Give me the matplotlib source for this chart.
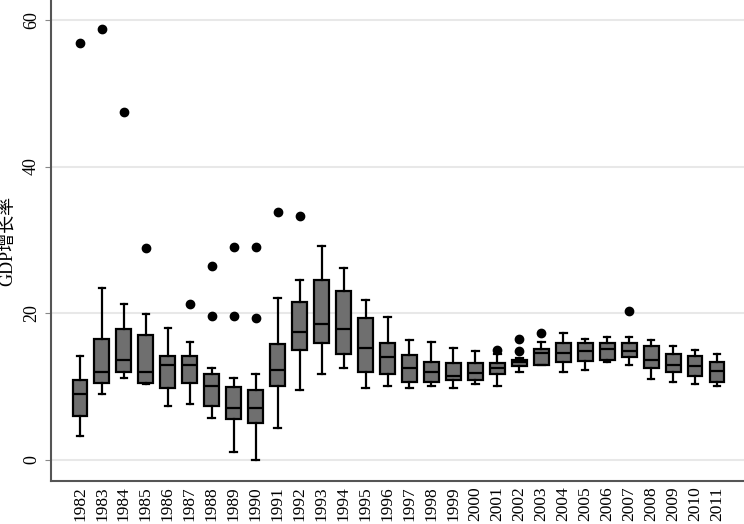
import matplotlib
matplotlib.use("Agg")
import matplotlib.pyplot as plt

plt.rcParams['font.family'] = ['Liberation Serif', 'Noto Sans CJK SC']

years = [str(y) for y in range(1982, 2012)]
whislo = [3.3, 9.0, 11.2, 10.4, 7.4, 7.7, 5.7, 1.1, 0.0, 4.4,
          9.5, 11.7, 12.6, 9.8, 10.1, 9.8, 10.1, 9.8, 10.4, 10.1,
          12.0, 12.9, 12.0, 12.3, 13.4, 12.9, 11.1, 10.7, 10.4, 10.1]
q1 = [6.0, 10.5, 12.0, 10.5, 9.8, 10.5, 7.4, 5.6, 5.1, 10.1,
      15.0, 16.0, 14.4, 12.0, 11.7, 10.6, 10.6, 10.9, 10.9, 11.7,
      12.8, 13.0, 13.4, 13.5, 13.7, 14.0, 12.5, 12.0, 11.4, 10.6]
med = [9.0, 12.0, 13.7, 12.0, 12.9, 12.9, 10.1, 7.1, 7.1, 12.3,
       17.5, 18.5, 17.8, 15.3, 14.0, 12.6, 12.0, 11.5, 11.8, 12.6,
       13.3, 14.6, 14.6, 14.8, 15.1, 14.8, 13.6, 12.9, 12.8, 12.1]
q3 = [10.9, 16.5, 17.8, 17.0, 14.2, 14.2, 11.7, 9.9, 9.5, 15.8,
      21.6, 24.6, 23.0, 19.4, 15.9, 14.3, 13.4, 13.2, 13.2, 13.2,
      13.6, 15.1, 15.9, 15.9, 15.9, 15.9, 15.5, 14.5, 14.2, 13.4]
whishi = [14.2, 23.5, 21.3, 19.9, 18.0, 16.1, 12.5, 11.2, 11.7, 22.1,
          24.5, 29.2, 26.2, 21.8, 19.5, 16.4, 16.1, 15.3, 14.8, 14.5,
          13.9, 16.1, 17.3, 16.5, 16.7, 16.7, 16.4, 15.6, 15.0, 14.5]
outliers = [[56.8], [58.8], [47.5], [28.9], [], [21.3], [26.5, 19.6], [29.0, 19.6], [29.0, 19.4], [33.8],
            [33.3], [], [], [], [], [], [], [], [], [15.0],
            [14.8, 16.5], [17.3], [], [], [], [20.3], [], [], [], []]

stats = []
for i in range(len(years)):
    stats.append(dict(label=years[i], whislo=whislo[i], q1=q1[i], med=med[i],
                      q3=q3[i], whishi=whishi[i], fliers=outliers[i]))

fig = plt.figure(figsize=(7.44, 5.24), dpi=100)
ax = fig.add_axes([51/744, 43/524, 1 - 51/744, 481/524])

positions = list(range(1, len(years) + 1))
lw = 1.6
ax.bxp(stats, positions=positions, widths=0.68, patch_artist=True,
       boxprops=dict(facecolor='#6f6f6f', edgecolor='black', linewidth=lw),
       medianprops=dict(color='black', linewidth=lw),
       whiskerprops=dict(color='black', linewidth=lw),
       capprops=dict(color='black', linewidth=lw),
       flierprops=dict(marker='o', markerfacecolor='black', markeredgecolor='black',
                       markersize=6, linestyle='none'),
       capwidths=0.3, zorder=3)

ax.set_xlim(-0.32, 31.23)
ax.set_ylim(-2.86, 62.7)
ax.set_yticks([0, 20, 40, 60])
ax.set_yticklabels(['0', '20', '40', '60'], rotation=90, va='center', fontsize=13)
ax.set_xticks(positions)
ax.set_xticklabels(years, rotation=90, fontsize=12.5)
ax.tick_params(axis='x', length=0, pad=4)
ax.tick_params(axis='y', length=4, color='#888888', width=0.8, pad=4)
ax.yaxis.grid(True, color='#e8e8e8', linewidth=1.5, zorder=0)
ax.set_axisbelow(True)
for s in ['top', 'right']:
    ax.spines[s].set_visible(False)
for s in ['left', 'bottom']:
    ax.spines[s].set_color('#555555')
    ax.spines[s].set_linewidth(1.5)
ax.set_ylabel('GDP增长率', fontsize=13, labelpad=5)

fig.savefig('out.png', dpi=100)
